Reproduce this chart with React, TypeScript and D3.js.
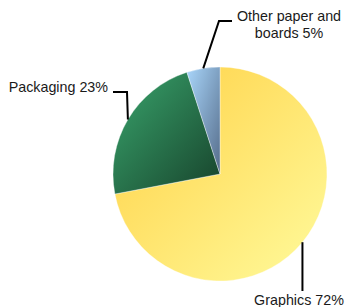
import React from 'react'
import * as d3 from 'd3'

const categories = ['Graphics', 'Packaging', 'Other paper and boards']
const values = [72, 23, 5]
const labelLines = [['Graphics 72%'], ['Packaging 23%'], ['Other paper and', 'boards 5%']]
const gradients = [
  ['#ffd044', '#fffb9c'],
  ['#39a56d', '#17422b'],
  ['#a9d6fb', '#556c8a']
]

const width = 346
const height = 307
const cx = 220
const cy = 174
const radius = 107

// where each label sits and how its leader bends
const labelLayout = [
  { x: 299, y: 305, anchor: 'middle', path: (p: number[]) => [p, [p[0], 291]] },
  { x: 108, y: 92, anchor: 'end', path: (p: number[]) => [p, [127, 92], [113, 92]] },
  { x: 289, y: 21, anchor: 'middle', path: (p: number[]) => [p, [219, 21], [232, 21]] }
]

const App = () => {
  const pie = d3.pie<number>().sort(null).value(d => d)
  const arcs = pie(values)
  const arc = d3.arc<d3.PieArcDatum<number>>().innerRadius(0).outerRadius(radius)
  const edge = d3.arc<d3.PieArcDatum<number>>().innerRadius(radius).outerRadius(radius)
  const line = d3.line()

  return (
    <svg
      width={width}
      height={height}
      style={{ position: 'absolute', left: 0, top: 0, fontFamily: 'Liberation Sans, Arial, sans-serif' }}
    >
      <defs>
        {gradients.map((g, i) => (
          <linearGradient key={i} id={'grad' + i} x1="0" y1="0" x2="1" y2="1">
            <stop offset="0" stopColor={g[0]} />
            <stop offset="1" stopColor={g[1]} />
          </linearGradient>
        ))}
      </defs>
      <g transform={`translate(${cx},${cy})`}>
        {arcs.map((a, i) => (
          <path key={categories[i]} d={arc(a) || ''} fill={`url(#grad${i})`} stroke="#ffffff" strokeWidth={0.6} strokeOpacity={0.6} />
        ))}
      </g>
      {arcs.map((a, i) => {
        const c = edge.centroid(a)
        const p = [c[0] + cx, c[1] + cy]
        const pts = labelLayout[i].path(p) as [number, number][]
        return <path key={'l' + i} d={line(pts) || ''} fill="none" stroke="#000" strokeWidth={2} />
      })}
      {labelLines.map((lines, i) => (
        <text
          key={'t' + i}
          x={labelLayout[i].x}
          y={labelLayout[i].y}
          textAnchor={labelLayout[i].anchor as any}
          fontSize={14.3}
          fill="#1a1a1a"
        >
          {lines.map((t, j) => (
            <tspan key={j} x={labelLayout[i].x} dy={j === 0 ? 0 : 16.5}>
              {t}
            </tspan>
          ))}
        </text>
      ))}
    </svg>
  )
}

export default App
